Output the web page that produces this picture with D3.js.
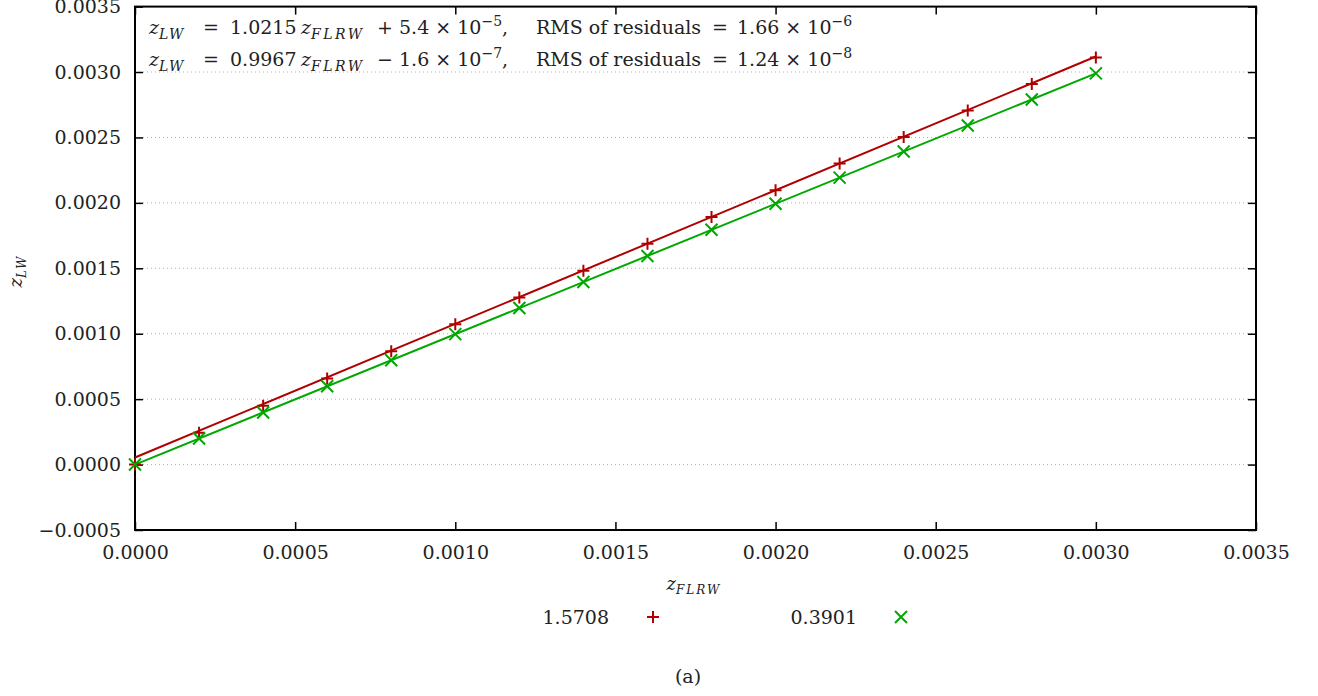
<!DOCTYPE html>
<html>
<head>
<meta charset="utf-8">
<script src="https://cdn.jsdelivr.net/npm/d3@7"></script>
<style>
html,body{margin:0;padding:0;background:#fff;}
svg{display:block;}
svg text{font-family:"DejaVu Serif",serif !important;fill:#222;}
</style>
</head>
<body>
<svg id="chart" width="1318" height="696"></svg>
<script>
// ---- data ----
const xTicks = [0, 0.0005, 0.0010, 0.0015, 0.0020, 0.0025, 0.0030, 0.0035];
const yTicks = [-0.0005, 0, 0.0005, 0.0010, 0.0015, 0.0020, 0.0025, 0.0030, 0.0035];
const zFLRW = [0, 0.0002, 0.0004, 0.0006, 0.0008, 0.0010, 0.0012, 0.0014, 0.0016, 0.0018, 0.0020, 0.0022, 0.0024, 0.0026, 0.0028, 0.0030];
const zLW_red = [0, 0.000243, 0.000450, 0.000658, 0.000866, 0.001072, 0.001277, 0.001482, 0.001688, 0.001893, 0.002097, 0.002300, 0.002503, 0.002706, 0.002909, 0.003111];
const zLW_green = [0, 0.000199, 0.000398, 0.000598, 0.000797, 0.000997, 0.001196, 0.001395, 0.001594, 0.001794, 0.001993, 0.002193, 0.002392, 0.002591, 0.002790, 0.002990];
const seriesNames = ["1.5708", "0.3901"];
const fitSlopes = [1.0215, 0.9967];
const fitIntercepts = [5.4e-5, -1.6e-7];
const fitRange = [0, 0.0030];

// ---- layout ----
const svg = d3.select("#chart");
const L = 135, R = 1256, T = 6.6, B = 530;
const x = d3.scaleLinear().domain([0, 0.0035]).range([L, R]);
const y = d3.scaleLinear().domain([-0.0005, 0.0035]).range([B, T]);
const colors = ["#b00000", "#00a800"];
const fmt = d3.format(".4f");
const FS = 19;

// grid
svg.append("g").selectAll("line").data(yTicks.filter(v => v > -0.0005 && v < 0.0035)).join("line")
  .attr("x1", L).attr("x2", R).attr("y1", d => y(d)).attr("y2", d => y(d))
  .attr("stroke", "#b0b0b0").attr("stroke-width", 1).attr("stroke-dasharray", "1,3");

// axes (inward ticks)
const tk = 8;
const gx = svg.append("g").attr("transform", `translate(0,${B})`)
  .call(d3.axisBottom(x).tickValues(xTicks).tickFormat(fmt).tickSize(-tk).tickPadding(tk + 8));
const gxt = svg.append("g").attr("transform", `translate(0,${T})`)
  .call(d3.axisTop(x).tickValues(xTicks).tickFormat("").tickSize(-tk));
const gy = svg.append("g").attr("transform", `translate(${L},0)`)
  .call(d3.axisLeft(y).tickValues(yTicks).tickFormat(fmt).tickSize(-tk).tickPadding(tk + 6));
const gyr = svg.append("g").attr("transform", `translate(${R},0)`)
  .call(d3.axisRight(y).tickValues(yTicks).tickFormat("").tickSize(-tk));
[gx, gxt, gy, gyr].forEach(g => {
  g.attr("font-family", null);
  g.select(".domain").remove();
  g.selectAll(".tick line").attr("stroke", "#000").attr("stroke-width", 1.5);
  g.selectAll(".tick text").attr("font-size", FS).attr("fill", "#222");
});

// frame
svg.append("rect").attr("x", L).attr("y", T).attr("width", R - L).attr("height", B - T)
  .attr("fill", "none").attr("stroke", "#000").attr("stroke-width", 2);

// fit lines
const line = d3.line().x(d => x(d[0])).y(d => y(d[1]));
fitSlopes.forEach((m, i) => {
  svg.append("path").datum(fitRange.map(v => [v, m * v + fitIntercepts[i]]))
    .attr("d", line).attr("fill", "none").attr("stroke", colors[i]).attr("stroke-width", 2);
});

// markers
const s = 6;
function plus(g, cx, cy, c) {
  g.append("path").attr("d", `M${cx - s},${cy}H${cx + s}M${cx},${cy - s}V${cy + s}`)
    .attr("stroke", c).attr("stroke-width", 2).attr("fill", "none");
}
function cross(g, cx, cy, c) {
  g.append("path").attr("d", `M${cx - s},${cy - s}L${cx + s},${cy + s}M${cx - s},${cy + s}L${cx + s},${cy - s}`)
    .attr("stroke", c).attr("stroke-width", 2).attr("fill", "none");
}
const gm = svg.append("g");
zFLRW.forEach((v, i) => plus(gm, x(v), y(zLW_red[i]), colors[0]));
zFLRW.forEach((v, i) => cross(gm, x(v), y(zLW_green[i]), colors[1]));

// annotation
const SUB = 14;
function eqLine(yy, coef, sign, mant, expo, rms, rexp) {
  const t = svg.append("text").attr("y", yy).attr("font-size", FS);
  t.append("tspan").attr("x", 149).attr("font-style", "italic").text("z");
  t.append("tspan").attr("font-style", "italic").attr("font-size", SUB).attr("letter-spacing", 2).attr("dy", 5).text("LW");
  t.append("tspan").attr("x", 203).attr("dy", -5).text("=");
  t.append("tspan").attr("x", 230).text(coef);
  t.append("tspan").attr("x", 301).attr("font-style", "italic").text("z");
  t.append("tspan").attr("font-style", "italic").attr("font-size", SUB).attr("letter-spacing", 2.5).attr("dy", 5).text("FLRW");
  t.append("tspan").attr("x", 377).attr("dy", -5).text(sign);
  t.append("tspan").attr("x", 399).text(mant + " \u00d7 10");
  t.append("tspan").attr("font-size", SUB).attr("dy", -8).text(expo);
  t.append("tspan").attr("dy", 8).text(",");
  t.append("tspan").attr("x", 536).text("RMS of residuals");
  t.append("tspan").attr("x", 712).text("=");
  t.append("tspan").attr("x", 737).text(rms + " \u00d7 10");
  t.append("tspan").attr("font-size", SUB).attr("dy", -8).text(rexp);
}
eqLine(34, "1.0215", "+", "5.4", "\u22125", "1.66", "\u22126");
eqLine(66, "0.9967", "\u2212", "1.6", "\u22127", "1.24", "\u22128");

// axis labels
const xl = svg.append("text").attr("x", 694).attr("y", 590).attr("text-anchor", "middle").attr("font-size", 18);
xl.append("tspan").attr("font-style", "italic").text("z");
xl.append("tspan").attr("font-style", "italic").attr("font-size", 12).attr("letter-spacing", 2).attr("dy", 4).text("FLRW");
const yl = svg.append("text").attr("transform", "translate(22,271) rotate(-90)").attr("text-anchor", "middle").attr("font-size", 18);
yl.append("tspan").attr("font-style", "italic").text("z");
yl.append("tspan").attr("font-style", "italic").attr("font-size", 12).attr("letter-spacing", 2).attr("dy", 4).text("LW");

// legend
const legX = [609, 857], legM = [653, 901], legY = 617;
seriesNames.forEach((n, i) => {
  svg.append("text").attr("x", legX[i]).attr("y", legY + 7).attr("text-anchor", "end").attr("font-size", FS).text(n);
});
plus(svg, legM[0], legY, colors[0]);
cross(svg, legM[1], legY, colors[1]);

// caption
svg.append("text").attr("x", 688).attr("y", 683).attr("text-anchor", "middle").attr("font-size", FS).text("(a)");
</script>
</body>
</html>
